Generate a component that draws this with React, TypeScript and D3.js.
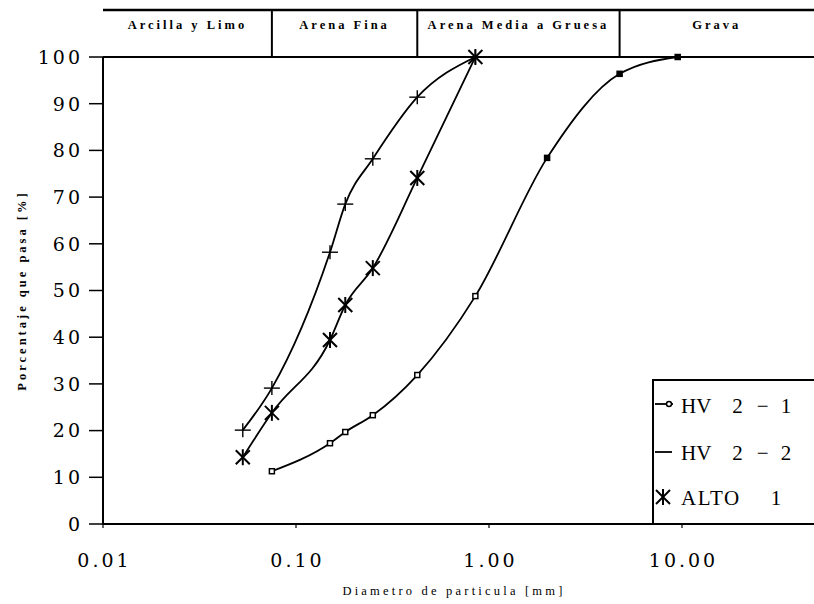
import React from "react";
import * as d3 from "d3";

// ---- data ----
const hv21Sizes = [0.075, 0.15, 0.18, 0.25, 0.425, 0.85, 2.0, 4.75, 9.5];
const hv21Values = [11.3, 17.3, 19.7, 23.3, 31.9, 48.8, 78.4, 96.4, 100];

const hv22Sizes = [0.053, 0.075, 0.15, 0.18, 0.25, 0.425, 0.85];
const hv22Values = [20.1, 29.1, 58.2, 68.5, 78.2, 91.4, 100];

const altoSizes = [0.053, 0.075, 0.15, 0.18, 0.25, 0.425, 0.85];
const altoValues = [14.3, 23.8, 39.4, 46.9, 54.8, 74.1, 100];

// legend names, split into the visually separated pieces
const seriesNames = [
  ["HV", "2", "\u2212", "1"],
  ["HV", "2", "\u2212", "2"],
  ["ALTO", "1"],
];

const yTicks = [0, 10, 20, 30, 40, 50, 60, 70, 80, 90, 100];
const xTicks = [0.01, 0.1, 1, 10];
const xTickLabels = ["0.01", "0.10", "1.00", "10.00"];

const classBounds = [0.075, 0.425, 4.75];
const classLabels = ["Arcilla y Limo", "Arena Fina", "Arena Media a Gruesa", "Grava"];

const xTitle = "Diametro de particula [mm]";
const yTitle = "Porcentaje que pasa [%]";

// ---- layout ----
const W = 814;
const H = 604;
const left = 103;
const top = 57;
const bottom = 524;
const headerTop = 10;

type Pt = { s: number; v: number };
const zip = (s: number[], v: number[]): Pt[] => s.map((d, i) => ({ s: d, v: v[i] }));

export default function App() {
  const x = d3.scaleLog().domain([0.01, 10]).range([left, 682]);
  const y = d3.scaleLinear().domain([0, 100]).range([bottom, top]);
  const line = d3
    .line<Pt>()
    .x((d) => x(d.s))
    .y((d) => y(d.v))
    .curve(d3.curveMonotoneX);

  const hv21 = zip(hv21Sizes, hv21Values);
  const hv22 = zip(hv22Sizes, hv22Values);
  const alto = zip(altoSizes, altoValues);

  const cellEdges = [left, ...classBounds.map((b) => x(b)), W];

  const serif = "'Liberation Serif', 'DejaVu Serif', serif";
  const tickFont = "'DejaVu Serif', serif";

  const star = (cx: number, cy: number, r: number, key: string) => (
    <g key={key} stroke="#000" strokeWidth={2}>
      <line x1={cx - r} y1={cy - r} x2={cx + r} y2={cy + r} />
      <line x1={cx - r} y1={cy + r} x2={cx + r} y2={cy - r} />
      <line x1={cx} y1={cy - r - 1} x2={cx} y2={cy + r + 1} />
    </g>
  );
  const plus = (cx: number, cy: number, key: string) => (
    <g key={key} stroke="#000" strokeWidth={1.4}>
      <line x1={cx - 8} y1={cy} x2={cx + 8} y2={cy} />
      <line x1={cx} y1={cy - 7} x2={cx} y2={cy + 7} />
    </g>
  );

  const legendY = [405, 452, 497];
  const hvDx = [0, 21, 14, 12];
  const altoDx = [0, 30];

  return (
    <svg
      width={W}
      height={H}
      style={{ position: "absolute", left: 0, top: 0, background: "#fff" }}
    >
      <rect x={0} y={0} width={W} height={H} fill="#fff" />

      {/* header band */}
      <line x1={left} x2={W} y1={headerTop} y2={headerTop} stroke="#000" strokeWidth={2.5} />
      {classBounds.map((b) => (
        <line key={b} x1={x(b)} x2={x(b)} y1={headerTop} y2={top} stroke="#000" strokeWidth={2} />
      ))}
      {classLabels.map((lab, i) => (
        <text
          key={lab}
          x={(cellEdges[i] + cellEdges[i + 1]) / 2}
          y={29}
          textAnchor="middle"
          fontFamily={serif}
          fontWeight="bold"
          fontSize={12.5}
          letterSpacing={3}
        >
          {lab}
        </text>
      ))}

      {/* frame: top line and axes */}
      <line x1={left} x2={W} y1={top} y2={top} stroke="#000" strokeWidth={2} />
      <line x1={left} x2={left} y1={top} y2={bottom} stroke="#000" strokeWidth={2} />
      <line x1={left} x2={W} y1={bottom} y2={bottom} stroke="#000" strokeWidth={2} />

      {/* y ticks */}
      {yTicks.map((t) => (
        <g key={t}>
          <line x1={89} x2={left} y1={y(t)} y2={y(t)} stroke="#000" strokeWidth={1.5} />
          <text
            x={83}
            y={y(t)}
            dy="0.36em"
            textAnchor="end"
            fontFamily={tickFont}
            fontSize={19}
            letterSpacing={3}
          >
            {t}
          </text>
        </g>
      ))}

      {/* x ticks */}
      {xTicks.map((t, i) => (
        <g key={t}>
          <line x1={x(t)} x2={x(t)} y1={bottom} y2={bottom + 4} stroke="#000" strokeWidth={1.2} />
          <text
            x={x(t) + 1.5}
            y={560}
            dy="0.36em"
            textAnchor="middle"
            fontFamily={tickFont}
            fontSize={19}
            letterSpacing={3}
          >
            {xTickLabels[i]}
          </text>
        </g>
      ))}

      {/* axis titles */}
      <text
        x={454}
        y={590}
        dy="0.36em"
        textAnchor="middle"
        fontFamily={serif}
        fontSize={12.5}
        letterSpacing={3.2}
      >
        {xTitle}
      </text>
      <text
        transform={`translate(21, ${(top + bottom) / 2}) rotate(-90)`}
        textAnchor="middle"
        dy="0.36em"
        fontFamily={serif}
        fontWeight="bold"
        fontSize={12.5}
        letterSpacing={3}
      >
        {yTitle}
      </text>

      {/* curves */}
      <path d={line(hv21) ?? ""} fill="none" stroke="#000" strokeWidth={1.8} />
      <path d={line(hv22) ?? ""} fill="none" stroke="#000" strokeWidth={1.8} />
      <path d={line(alto) ?? ""} fill="none" stroke="#000" strokeWidth={1.8} />

      {/* markers */}
      {hv21.map((d, i) => (
        <rect
          key={"a" + i}
          x={x(d.s) - 2.5}
          y={y(d.v) - 2.5}
          width={5}
          height={5}
          fill={i >= 6 ? "#000" : "#fff"}
          stroke="#000"
          strokeWidth={1.5}
        />
      ))}
      {hv22.map((d, i) => plus(x(d.s), y(d.v), "b" + i))}
      {alto.map((d, i) => star(x(d.s), y(d.v), 7, "c" + i))}

      {/* legend */}
      <path d={`M653,${bottom} V380 H${W}`} fill="none" stroke="#000" strokeWidth={2} />
      <line x1={655} x2={673} y1={404} y2={404} stroke="#000" strokeWidth={1.8} />
      <circle cx={669} cy={404} r={2.5} fill="#fff" stroke="#000" strokeWidth={1.5} />
      <line x1={655} x2={672} y1={452} y2={452} stroke="#000" strokeWidth={1.8} />
      {star(663, 497, 7, "legstar")}
      {seriesNames.map((parts, i) => (
        <text
          key={i}
          x={681}
          y={legendY[i]}
          dy="0.36em"
          fontFamily={serif}
          fontSize={21}
        >
          {parts.map((p, j) => (
            <tspan key={j} dx={(i < 2 ? hvDx : altoDx)[j]} letterSpacing={i === 2 && j === 0 ? 1.5 : 0}>
              {p}
            </tspan>
          ))}
        </text>
      ))}
    </svg>
  );
}
